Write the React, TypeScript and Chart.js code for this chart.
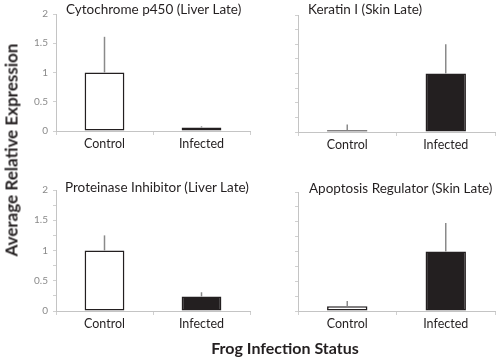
import React, { useEffect, useRef } from "react";
import { Chart, registerables } from "chart.js";

Chart.register(...registerables);

const categories = ["Control", "Infected"];
const panelTitles = [
  "Cytochrome p450 (Liver Late)",
  "Keratin I (Skin Late)",
  "Proteinase Inhibitor (Liver Late)",
  "Apoptosis Regulator (Skin Late)",
];
const cytochromeValues = [1.0, 0.06];
const cytochromeErrors = [0.61, 0.02];
const keratinValues = [0.03, 1.0];
const keratinErrors = [0.1, 0.5];
const proteinaseValues = [1.0, 0.24];
const proteinaseErrors = [0.25, 0.07];
const apoptosisValues = [0.08, 1.0];
const apoptosisErrors = [0.09, 0.48];
const yTickLabels = ["0", "0.5", "1", "1.5", "2"];
const yAxisTitle = "Average Relative Expression";
const xAxisTitle = "Frog Infection Status";

const FONT = "Lato, 'Open Sans', sans-serif";
const DARK = "#231f20";

const errorBarPlugin = {
  id: "errorBars",
  afterDatasetsDraw(chart: any) {
    const errs: number[] = chart.options.plugins.errorBars.errors;
    const meta = chart.getDatasetMeta(0);
    const ys = chart.scales.y;
    const vals = chart.data.datasets[0].data as number[];
    const ctx = chart.ctx;
    ctx.save();
    ctx.strokeStyle = "#8a8a8a";
    ctx.lineWidth = 1.5;
    meta.data.forEach((bar: any, i: number) => {
      const y0 = ys.getPixelForValue(vals[i]);
      const y1 = ys.getPixelForValue(vals[i] + errs[i]);
      ctx.beginPath();
      ctx.moveTo(bar.x, y0);
      ctx.lineTo(bar.x, y1);
      ctx.stroke();
    });
    ctx.restore();
  },
};

type PanelProps = {
  values: number[];
  errors: number[];
  showYLabels: boolean;
  left: number;
  top: number;
  width: number;
  height: number;
  yWidth: number;
  padTop: number;
  padRight: number;
  xHeight: number;
};

function Panel(p: PanelProps) {
  const ref = useRef<HTMLCanvasElement>(null);
  useEffect(() => {
    const chart = new Chart(ref.current!, {
      type: "bar",
      data: {
        labels: categories,
        datasets: [
          {
            data: p.values,
            backgroundColor: ["#ffffff", DARK],
            borderColor: DARK,
            borderWidth: 1.6,
            borderSkipped: false,
            barPercentage: 0.82,
            categoryPercentage: 0.5,
          },
        ],
      },
      options: {
        animation: false,
        responsive: false,
        maintainAspectRatio: false,
        layout: { padding: { top: p.padTop, right: p.padRight, left: 0, bottom: 0 } },
        plugins: {
          legend: { display: false },
          tooltip: { enabled: false },
          title: { display: false },
          errorBars: { errors: p.errors },
        } as any,
        scales: {
          x: {
            afterFit: (s: any) => {
              s.height = p.xHeight;
            },
            grid: { drawOnChartArea: false, drawTicks: true, tickLength: 4, color: "#d0d0d0", offset: true },
            border: { color: "#c4c4c4", width: 1 },
            ticks: { color: DARK, font: { family: FONT, size: 12.5 }, padding: 1 },
          },
          y: {
            min: 0,
            max: 2,
            afterFit: (s: any) => {
              s.width = p.yWidth;
            },
            grid: { drawOnChartArea: false, drawTicks: true, tickLength: 3, color: "#d0d0d0" },
            border: { color: "#c4c4c4", width: 1 },
            ticks: {
              display: p.showYLabels,
              stepSize: 0.25,
              color: "#8a8a8a",
              font: { family: FONT, size: 10 },
              padding: 5,
              callback: (v: any) => {
                const idx = Number(v) * 2;
                return Number.isInteger(idx) ? yTickLabels[idx] : "";
              },
            },
          },
        },
      },
      plugins: [errorBarPlugin],
    });
    return () => chart.destroy();
  }, []);
  return (
    <canvas
      ref={ref}
      width={p.width}
      height={p.height}
      style={{ position: "absolute", left: p.left, top: p.top, width: p.width, height: p.height }}
    />
  );
}

const titleStyle = (left: number, top: number): React.CSSProperties => ({
  position: "absolute",
  left,
  top,
  font: `13.5px ${FONT}`,
  lineHeight: "13px",
  color: DARK,
  whiteSpace: "nowrap",
});

export default function App() {
  return (
    <div style={{ position: "fixed", left: 0, top: 0, width: 500, height: 362, background: "#fff", overflow: "hidden" }}>
      <Panel values={cytochromeValues} errors={cytochromeErrors} showYLabels={true}
        left={0} top={0} width={252} height={160} yWidth={56} padTop={14} padRight={2} xHeight={29} />
      <Panel values={keratinValues} errors={keratinErrors} showYLabels={false}
        left={250} top={0} width={250} height={160} yWidth={48} padTop={15} padRight={5} xHeight={28} />
      <Panel values={proteinaseValues} errors={proteinaseErrors} showYLabels={true}
        left={0} top={176} width={252} height={160} yWidth={56} padTop={14} padRight={2} xHeight={25} />
      <Panel values={apoptosisValues} errors={apoptosisErrors} showYLabels={false}
        left={250} top={176} width={250} height={160} yWidth={48} padTop={16} padRight={5} xHeight={25} />
      <div style={titleStyle(66, 3)}>{panelTitles[0]}</div>
      <div style={titleStyle(308, 3)}>{panelTitles[1]}</div>
      <div style={titleStyle(65, 181)}>{panelTitles[2]}</div>
      <div style={titleStyle(309, 182)}>{panelTitles[3]}</div>
      <div
        style={{
          position: "absolute",
          left: 11,
          top: 150,
          transform: "translate(-50%, -50%) rotate(-90deg)",
          font: `bold 17px ${FONT}`,
          lineHeight: "17px",
          color: DARK,
          whiteSpace: "nowrap",
        }}
      >
        {yAxisTitle}
      </div>
      <div
        style={{
          position: "absolute",
          left: 285,
          top: 348,
          transform: "translate(-50%, -50%)",
          font: `bold 16px ${FONT}`,
          lineHeight: "16px",
          color: DARK,
          whiteSpace: "nowrap",
        }}
      >
        {xAxisTitle}
      </div>
    </div>
  );
}
